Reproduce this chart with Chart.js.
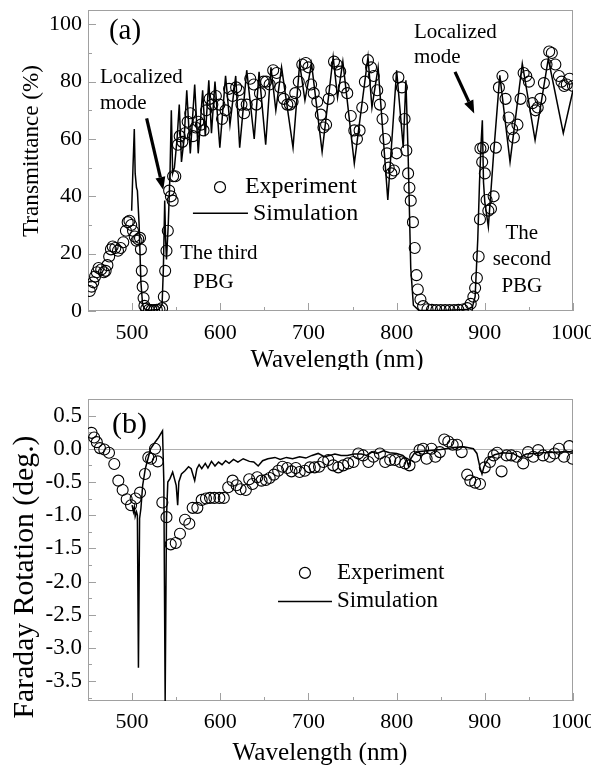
<!DOCTYPE html>
<html><head><meta charset="utf-8">
<script src="https://cdn.jsdelivr.net/npm/chart.js@4.4.0/dist/chart.umd.min.js"></script>
<style>
html,body{margin:0;padding:0;background:#fff;width:591px;height:765px;overflow:hidden}
.wrap{position:absolute;left:0;width:591px}
</style></head><body>
<div class="wrap" style="top:0;height:370px"><canvas id="ca"></canvas></div>
<div class="wrap" style="top:370px;height:395px"><canvas id="cb"></canvas></div>
<script>
// ---------- DATA ----------
const xTicks = [500, 600, 700, 800, 900, 1000];
const xMinorTicks = [550, 650, 750, 850, 950];
const yTicksA = [0, 20, 40, 60, 80, 100];
const yMinorTicksA = [10, 30, 50, 70, 90];
const yTicksB = [0.5, 0.0, -0.5, -1.0, -1.5, -2.0, -2.5, -3.0, -3.5];
const yMinorTicksB = [0.25, -0.25, -0.75, -1.25, -1.75, -2.25, -2.75, -3.25, -3.75];

// (a) Transmittance - simulation
const simAWave = [499.5,501,502.5,503.5,505,506,508,510,512,515,520,530,534,535.5,537,538,539,541,543,544.5,546,548,551,553.5,556,559,562,566,571,575,580,583,587,590,594,599.5,606,611,617.5,622,630,638.5,644,651.5,657.5,663,669.5,682.5,690,696,703.5,715.5,728,733,739,752,767.5,772,779,790,800,807.5,810.5,813,816,819,825,850,880,886,889,892,894,896,897.2,898.5,900,904,910,917,928.6,942.5,957,972,989,1000];
const simAT = [35,50,63.5,48,43,42,30,10,2,0.5,0.3,0.5,2,15,38.5,25,18,30,48,70,48,50,60,72,52,60,77,55,79,55,77,61,80.5,62,80,57,82,65,82,57,84,60,83.4,58,85,70,85,57,86.3,73.5,86.3,55.5,88.6,74.5,87,51.5,88.6,71,85,38.7,84,57,80.5,55,15,2,0.3,0.2,0.5,1.5,5,25,45,60,66.5,45,38,29.4,55,82.2,52,86.3,59.6,88,62,77];

// (a) Transmittance - experiment
const expAWave = [452,454,456,458,460,462,465,468,470,472,474,476,478,481,484,487,490,493,495,497,499,501,503,505,507,509,510,511,512,513,514,516,519,522,525,528,531,534,536,537.5,539,540.5,542,544,546,546.5,549,552,554,557,560,563,566,569,572,575,578,581,584,588,591,595,599,602,606,610,614,618,621,624,627,630,634,638,641,645,649,652,656,660,664,668,672,676,679,682,685,689,693,697,700,703,706,710,714,717,720,723,726,729,732,736,740,744,748,752,755,758,761,764,767.5,771,774,778,781,784,787,789,791,794,797,800,802,806,809,811,813,814.5,816,818.5,820.5,822.5,824,827,830,835,840,845,850,855,860,865,870,875,880,884,887,889,891,893,894.5,895,897,898,900,902,904,907,910,912.5,916,920,923.5,927,931,933,937,940.5,944,947,950,954,957.5,960,963,967,970,973,976,980,984,987,990,993,996,1000];
const expAT = [7,8.5,10,12,13.5,15,14.5,13.5,14,16,19,21.5,22.5,22,21,22,24,28,31,31.5,30,28,26,24.5,25,25.5,21.5,14,8.5,4.5,1.8,0.8,0.4,0.3,0.3,0.4,0.5,1,5,14,21,28,42,40,38.5,47,47,58,61,59,62,66,69,61,64,66,65,63,70,74,72,75,72,67,70,77.5,75,78,77,72,69,72,81,79,72,76,80,80,79,84,83,78,74,72,72,73,76,80,86,86.5,85,79,76,73,68.5,64,65,74,77,87,86,83.5,78,76,68,63,60,63,71,80,87.5,85,82,77,72,67,60,55,50,48,49,55,81.5,78,67,56,48,43,38.5,31,22,12.5,7.5,4,1.7,0.6,0.4,0.3,0.3,0.3,0.3,0.3,0.4,0.5,1,2.5,5,8,11.5,19,32,56.7,52,57,48,38.7,35,35.7,40,57,78,82,74,67.5,63.5,60.5,65,74,83,82,80,72.5,70,71,74,79.5,86,90.5,90,86,82,80,78.5,79,81,78.5];

// (b) Faraday rotation - simulation
const simBWave = [500,501.5,502.5,503.5,505,506,507.2,508.5,510,512,515,518,521,525,530,534.5,536,537.5,539,540.5,543,546,548,550,551.7,553,556,560,564,567,571,573.5,576,579,583,586,590,594,598,602,606,610,615,620,626,633,638,643,648,654,662,668,675,682,690,697,704,711,718,724,730,737,744,752,760,766,772,778,785,792,800,807,811,813.5,816,820,826,835,850,865,876,887,891,894.5,896.8,899,904,911,920,932,940,947,966,985,1000];
const simBRot = [-0.85,-0.95,-0.88,-1.02,-0.95,-1.0,-3.3,-1.05,-0.9,-0.55,-0.3,-0.15,0.0,0.08,0.17,0.27,-0.5,-3.8,-1.03,-0.5,-0.45,-0.35,-0.45,-0.55,-0.85,-0.5,-0.38,-0.33,-0.27,-0.3,-0.48,-0.3,-0.24,-0.3,-0.22,-0.29,-0.19,-0.26,-0.2,-0.24,-0.18,-0.22,-0.16,-0.2,-0.15,-0.19,-0.2,-0.26,-0.18,-0.15,-0.13,-0.16,-0.13,-0.15,-0.12,-0.14,-0.1,-0.07,-0.12,-0.1,-0.08,-0.1,-0.1,-0.08,-0.08,-0.1,-0.05,-0.07,-0.03,-0.06,-0.07,-0.1,-0.15,-0.26,-0.15,-0.07,-0.04,-0.03,-0.01,0.02,0.03,0.0,-0.07,-0.28,-0.38,-0.27,-0.15,-0.09,-0.06,-0.07,-0.13,-0.08,-0.06,-0.05,-0.05];

// (b) Faraday rotation - experiment
const expBWave = [454,457,460,463.5,468.5,473.8,479.8,484.4,489.3,493.9,498.8,504,509,514.6,518.4,521.5,526,529,534.3,539,543.8,549.5,554.3,560,564.9,568.7,574,578.9,583.8,588.4,593.3,599,604,609,614,618.5,623,629,632.8,636.6,641.9,646.8,651.7,656,660.8,665.7,670.6,675.9,680.8,685.7,690,696,701.6,707,712,716.9,722.5,728,733.8,739.5,745,751,756.6,762,768,773.7,781,787,792.7,798,804,809.6,814.6,821,826,830,834,839.5,844,849,854,858.6,863.5,868.5,873.8,880,883.6,889,894.5,900,905.8,910,914,919,924.7,930,936,943.5,949,955,960.5,966,973.7,979,984,989.7,995.7,999.5];
const expBRot = [0.24,0.17,0.1,0.01,-0.01,-0.06,-0.23,-0.48,-0.62,-0.76,-0.85,-0.75,-0.66,-0.38,-0.13,-0.15,0.0,-0.19,-0.81,-1.03,-1.44,-1.42,-1.28,-1.07,-1.13,-0.89,-0.89,-0.77,-0.75,-0.74,-0.74,-0.74,-0.74,-0.58,-0.48,-0.55,-0.61,-0.62,-0.46,-0.53,-0.43,-0.48,-0.47,-0.44,-0.39,-0.33,-0.27,-0.29,-0.34,-0.29,-0.35,-0.33,-0.28,-0.28,-0.27,-0.2,-0.17,-0.25,-0.28,-0.25,-0.22,-0.2,-0.07,-0.1,-0.2,-0.12,-0.07,-0.2,-0.17,-0.17,-0.2,-0.22,-0.25,-0.12,-0.02,0.0,-0.15,0.0,-0.12,-0.05,0.14,0.11,0.06,0.06,-0.05,-0.39,-0.48,-0.51,-0.53,-0.28,-0.2,-0.1,-0.06,-0.34,-0.1,-0.1,-0.12,-0.22,-0.05,-0.12,-0.02,-0.1,-0.12,-0.07,0.0,-0.12,0.04,-0.15];

// ---------- HELPERS ----------
const FONT = "'Liberation Serif','Times New Roman',serif";
Chart.defaults.font.family = FONT;
Chart.defaults.color = '#000';
const pts = (xs, ys) => xs.map((x, i) => ({x: x, y: ys[i]}));

function fitFont(ctx, text, target) {
  ctx.font = '100px ' + FONT;
  const w = ctx.measureText(text).width;
  return (100 * target / w).toFixed(2) + 'px ' + FONT;
}

function arrow(ctx, x1, y1, x2, y2) {
  const ang = Math.atan2(y2 - y1, x2 - x1), L = 13, W = 5;
  const bx = x2 - L * Math.cos(ang), by = y2 - L * Math.sin(ang);
  ctx.strokeStyle = '#000'; ctx.lineWidth = 3.2;
  ctx.beginPath(); ctx.moveTo(x1, y1); ctx.lineTo(bx, by); ctx.stroke();
  ctx.fillStyle = '#000'; ctx.beginPath();
  ctx.moveTo(x2, y2);
  ctx.lineTo(bx + W * Math.sin(ang), by - W * Math.cos(ang));
  ctx.lineTo(bx - W * Math.sin(ang), by + W * Math.cos(ang));
  ctx.closePath(); ctx.fill();
}

function deco(o) {
  return {
    id: 'deco',
    beforeDatasetsDraw(chart) {
      const {ctx, chartArea: a, scales: {x, y}} = chart;
      ctx.save();
      if (o.zeroLine) {
        const py = Math.round(y.getPixelForValue(0)) + 0.5;
        ctx.strokeStyle = '#b0b0b0'; ctx.lineWidth = 1;
        ctx.beginPath(); ctx.moveTo(a.left, py); ctx.lineTo(a.right, py); ctx.stroke();
      }
      ctx.strokeStyle = '#a0a0a0'; ctx.lineWidth = 1;
      ctx.strokeRect(a.left + 0.5, a.top + 0.5, a.right - a.left - 1, a.bottom - a.top - 1);
      ctx.beginPath();
      xTicks.forEach(v => { const px = Math.round(x.getPixelForValue(v)) + 0.5; ctx.moveTo(px, a.bottom); ctx.lineTo(px, a.bottom - 8); });
      xMinorTicks.forEach(v => { const px = Math.round(x.getPixelForValue(v)) + 0.5; ctx.moveTo(px, a.bottom); ctx.lineTo(px, a.bottom - 4); });
      o.yMajor.forEach(v => { const py = Math.round(y.getPixelForValue(v)) + 0.5; ctx.moveTo(a.left, py); ctx.lineTo(a.left + 8, py); });
      o.yMinor.forEach(v => { const py = Math.round(y.getPixelForValue(v)) + 0.5; ctx.moveTo(a.left, py); ctx.lineTo(a.left + 4, py); });
      ctx.stroke();
      ctx.restore();
    },
    afterDraw(chart) {
      const {ctx, scales: {x, y}} = chart;
      ctx.save();
      ctx.fillStyle = '#000';
      // axis titles (fitted to the reference text length)
      ctx.textAlign = 'center'; ctx.textBaseline = 'alphabetic';
      ctx.font = fitFont(ctx, o.xTitle.text, o.xTitle.len);
      ctx.fillText(o.xTitle.text, o.xTitle.cx, o.xTitle.base);
      ctx.save();
      ctx.translate(o.yTitle.base, o.yTitle.cy); ctx.rotate(-Math.PI / 2);
      ctx.font = fitFont(ctx, o.yTitle.text, o.yTitle.len);
      ctx.fillText(o.yTitle.text, 0, 0);
      ctx.restore();
      // annotations (data coordinates)
      ctx.textBaseline = 'middle';
      o.texts.forEach(t => {
        ctx.font = t.size + 'px ' + FONT;
        ctx.textAlign = t.align || 'left';
        ctx.fillText(t.text, x.getPixelForValue(t.x), y.getPixelForValue(t.y));
      });
      (o.arrows || []).forEach(r => arrow(ctx, x.getPixelForValue(r[0]), y.getPixelForValue(r[1]), x.getPixelForValue(r[2]), y.getPixelForValue(r[3])));
      // legend
      const L = o.legend;
      ctx.strokeStyle = '#000'; ctx.lineWidth = 1.2;
      ctx.beginPath(); ctx.arc(x.getPixelForValue(L.cx), y.getPixelForValue(L.cy), 5.5, 0, 2 * Math.PI); ctx.stroke();
      ctx.lineWidth = 1.5;
      ctx.beginPath(); ctx.moveTo(x.getPixelForValue(L.l1), y.getPixelForValue(L.ly)); ctx.lineTo(x.getPixelForValue(L.l2), y.getPixelForValue(L.ly)); ctx.stroke();
      ctx.font = L.size + 'px ' + FONT; ctx.textAlign = 'left';
      ctx.fillText('Experiment', x.getPixelForValue(L.tx), y.getPixelForValue(L.cy));
      ctx.fillText('Simulation', x.getPixelForValue(L.tx2), y.getPixelForValue(L.ly));
      ctx.restore();
    }
  };
}

function makeChart(id, o) {
  return new Chart(document.getElementById(id), {
    type: 'scatter',
    data: {
      datasets: [
        {label: 'Simulation', data: o.sim, showLine: true, borderColor: '#000', borderWidth: 1.5, pointRadius: 0, tension: 0, order: 2},
        {label: 'Experiment', data: o.exp, showLine: false, borderColor: '#000', backgroundColor: 'rgba(0,0,0,0)', borderWidth: 1.1, pointRadius: 5.5, pointStyle: 'circle', order: 1}
      ]
    },
    options: {
      responsive: true, maintainAspectRatio: false, animation: false, devicePixelRatio: 1,
      layout: {padding: {left: 0, right: 18, top: o.top, bottom: 0}},
      plugins: {legend: {display: false}, tooltip: {enabled: false}},
      scales: {
        x: {
          type: 'linear', min: 450, max: 1000,
          afterBuildTicks: s => { s.ticks = xTicks.map(v => ({value: v})); },
          afterFit: s => { s.height = o.xh; s.paddingLeft = 0; s.paddingRight = 0; s.paddingTop = 0; s.paddingBottom = 0; },
          grid: {display: false, drawTicks: false}, border: {display: false},
          ticks: {font: {size: 22, family: FONT}, color: '#000', padding: o.xpad, maxRotation: 0, autoSkip: false, callback: v => String(v)}
        },
        y: {
          type: 'linear', min: o.ymin, max: o.ymax,
          afterBuildTicks: s => { s.ticks = o.yMajor.map(v => ({value: v})); },
          afterFit: s => { s.width = 88; s.paddingTop = 0; s.paddingBottom = 0; s.paddingLeft = 0; s.paddingRight = 0; },
          grid: {display: false, drawTicks: false}, border: {display: false},
          ticks: {font: {size: o.ysize, family: FONT}, color: '#000', padding: 6, autoSkip: false, callback: o.yfmt}
        }
      }
    },
    plugins: [deco(o)]
  });
}

makeChart('ca', {
  sim: pts(simAWave, simAT), exp: pts(expAWave, expAT),
  top: 10, xh: 59, xpad: 9, ymin: 0, ymax: 105, ysize: 22,
  yMajor: yTicksA, yMinor: yMinorTicksA, yfmt: v => String(v),
  xTitle: {text: 'Wavelength (nm)', len: 173, cx: 337, base: 367},
  yTitle: {text: 'Transmittance (%)', len: 172, base: 38, cy: 151},
  texts: [
    {text: '(a)', x: 492, y: 97.5, size: 29, align: 'center'},
    {text: 'Localized', x: 463.6, y: 81.5, size: 21},
    {text: 'mode', x: 463.6, y: 72.5, size: 21},
    {text: 'The third', x: 554.3, y: 20.2, size: 21},
    {text: 'PBG', x: 569, y: 10.1, size: 21},
    {text: 'Localized', x: 819.7, y: 97.2, size: 21},
    {text: 'mode', x: 819.7, y: 88.5, size: 21},
    {text: 'The', x: 942, y: 27.2, size: 21, align: 'center'},
    {text: 'second', x: 942, y: 17.8, size: 21, align: 'center'},
    {text: 'PBG', x: 942, y: 8.4, size: 21, align: 'center'}
  ],
  arrows: [[516.5, 67.2, 535.4, 42.2], [866.2, 83.4, 888, 68.9]],
  legend: {cx: 599.7, cy: 43.2, tx: 628, l1: 569, l2: 631.4, ly: 34.1, tx2: 637, size: 24}
});

makeChart('cb', {
  sim: pts(simBWave, simBRot), exp: pts(expBWave, expBRot), zeroLine: true,
  top: 29, xh: 64, xpad: 8, ymin: -3.8, ymax: 0.75, ysize: 23,
  yMajor: yTicksB, yMinor: yMinorTicksB, yfmt: v => v.toFixed(1),
  xTitle: {text: 'Wavelength (nm)', len: 175, cx: 320, base: 390},
  yTitle: {text: 'Faraday Rotation (deg.)', len: 283, base: 33, cy: 207},
  texts: [
    {text: '(b)', x: 497, y: 0.36, size: 30, align: 'center'}
  ],
  arrows: [],
  legend: {cx: 696, cy: -1.87, tx: 732.4, l1: 665.5, l2: 726.7, ly: -2.30, tx2: 732.4, size: 23}
});
</script>
</body></html>
